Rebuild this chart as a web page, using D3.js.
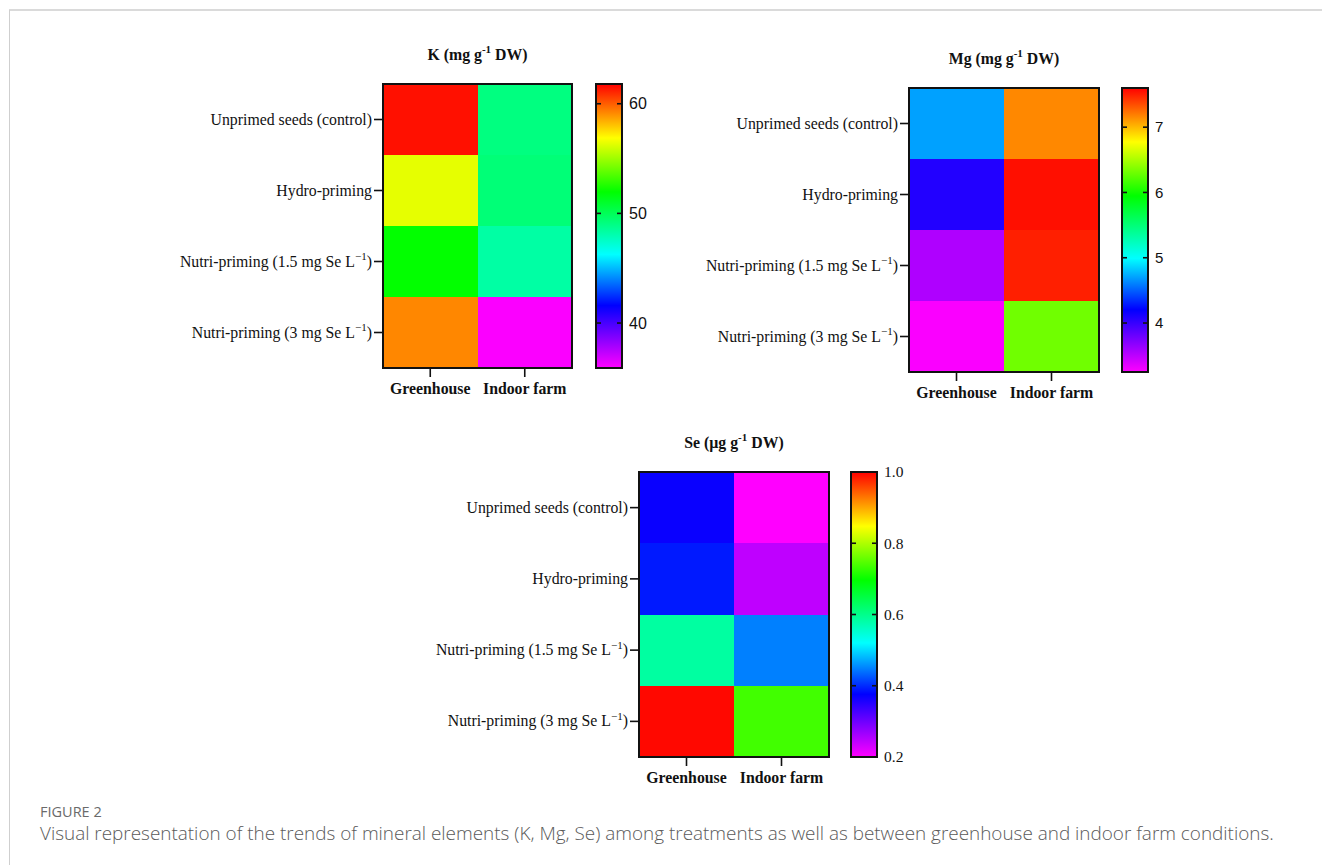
<!DOCTYPE html>
<html><head><meta charset="utf-8">
<script src="https://cdn.jsdelivr.net/npm/d3@7"></script>
<style>body{margin:0;background:#fff} svg{display:block} text,tspan{white-space:pre}</style>
</head><body><svg id="c" width="1322" height="865"></svg>
<script>
// ---------- data ----------
const treatments = ["Unprimed seeds (control)", "Hydro-priming", "Nutri-priming (1.5 mg Se L^\u22121^)", "Nutri-priming (3 mg Se L^\u22121^)"];
const conditions = ["Greenhouse", "Indoor farm"];
const kGreenhouse = [61.5, 56.4, 52.0, 59.2];
const kIndoor = [49.1, 49.3, 48.3, 36.0];
const mgGreenhouse = [4.70, 4.08, 3.55, 3.27];
const mgIndoor = [7.16, 7.55, 7.50, 6.31];
const seGreenhouse = [0.37, 0.39, 0.585, 0.995];
const seIndoor = [0.20, 0.244, 0.448, 0.735];
const kTicks = [40, 50, 60];
const mgTicks = [4, 5, 6, 7];
const seTicks = [0.2, 0.4, 0.6, 0.8, 1.0];
const kDomain = [35.9, 61.8];
const mgDomain = [3.25, 7.6];
const seDomain = [0.2, 1.0];
const rainbowStops = [0, 0.22, 0.40, 0.62, 0.81, 1];
const rainbowColors = ["#ff00ff", "#0000ff", "#00ffff", "#00ff00", "#ffff00", "#ff0000"];
const captionLabel = "FIGURE 2";
const captionText = "Visual representation of the trends of mineral elements (K, Mg, Se) among treatments as well as between greenhouse and indoor farm conditions.";

// ---------- drawing ----------
const SERIF = "'Liberation Serif','Times New Roman',Times,serif";
const SANS = "'Liberation Sans',Arial,Helvetica,sans-serif";
const svg = d3.select("#c");
svg.append("rect").attr("width", 1322).attr("height", 865).attr("fill", "#fff");
// frame
svg.append("line").attr("x1", 9).attr("x2", 1322).attr("y1", 10).attr("y2", 10).attr("stroke", "#dadada").attr("stroke-width", 2);
svg.append("line").attr("x1", 9.5).attr("x2", 9.5).attr("y1", 10).attr("y2", 865).attr("stroke", "#cfcfcf").attr("stroke-width", 1);

function rich(sel, str, fs) {
  const parts = str.split("^");
  parts.forEach((p, i) => {
    if (!p) return;
    const sup = i % 2 === 1;
    const t = sel.append("tspan").text(p);
    if (sup) t.attr("font-size", fs * 0.7).attr("dy", -fs * 0.42);
    else if (i > 0) t.attr("dy", fs * 0.42);
  });
}

let gid = 0;
function panel(cfg) {
  const g = svg.append("g");
  const x = d3.scaleBand().domain(conditions).range([cfg.x, cfg.x + cfg.w]);
  const y = d3.scaleBand().domain(treatments).range([cfg.y, cfg.y + cfg.h]);
  const d0 = cfg.domain[0], d1 = cfg.domain[1];
  const color = d3.scaleLinear()
    .domain(rainbowStops.map(s => d0 + s * (d1 - d0)))
    .range(rainbowColors).interpolate(d3.interpolateRgb).clamp(true);
  const cells = [];
  treatments.forEach((t, i) => {
    cells.push({ t, c: conditions[0], v: cfg.gh[i] });
    cells.push({ t, c: conditions[1], v: cfg.ind[i] });
  });
  g.selectAll("rect.cell").data(cells).join("rect").attr("class", "cell")
    .attr("x", d => x(d.c)).attr("y", d => y(d.t))
    .attr("width", x.bandwidth()).attr("height", y.bandwidth())
    .attr("fill", d => color(d.v)).attr("shape-rendering", "crispEdges");
  g.append("rect").attr("x", cfg.x).attr("y", cfg.y).attr("width", cfg.w).attr("height", cfg.h)
    .attr("fill", "none").attr("stroke", "#111").attr("stroke-width", 2);

  // title
  const tt = g.append("text").attr("x", cfg.x + cfg.w / 2).attr("y", cfg.y - 24)
    .attr("text-anchor", "middle").attr("font-family", SERIF).attr("font-weight", "bold")
    .attr("font-size", 15.8).attr("fill", "#111");
  rich(tt, cfg.title, 15.8);

  // left axis
  const ya = g.append("g").attr("transform", `translate(${cfg.x - 1},0)`)
    .call(d3.axisLeft(y).tickSize(8).tickPadding(2));
  ya.select(".domain").remove();
  ya.attr("font-family", SERIF).attr("font-size", 15.8);
  ya.selectAll(".tick line").attr("stroke", "#111").attr("stroke-width", 1.6);
  ya.selectAll(".tick text").attr("fill", "#111").each(function (d) {
    const s = d3.select(this); s.text(null); rich(s, d, 15.8);
  });

  // bottom axis
  const xa = g.append("g").attr("transform", `translate(0,${cfg.y + cfg.h + 1})`)
    .call(d3.axisBottom(x).tickSize(8).tickPadding(6));
  xa.select(".domain").remove();
  xa.attr("font-family", SERIF).attr("font-size", 15.8).attr("font-weight", "bold");
  xa.selectAll(".tick line").attr("stroke", "#111").attr("stroke-width", 1.6);
  xa.selectAll(".tick text").attr("fill", "#111");

  // colorbar
  const cy = d3.scaleLinear().domain(cfg.domain).range([cfg.y + cfg.h, cfg.y]);
  const id = "grad" + (gid++);
  const grad = svg.append("defs").append("linearGradient").attr("id", id)
    .attr("x1", 0).attr("x2", 0).attr("y1", 1).attr("y2", 0);
  rainbowStops.forEach((s, i) => grad.append("stop").attr("offset", s).attr("stop-color", rainbowColors[i]));
  const cbw = 26;
  g.append("rect").attr("x", cfg.cbx).attr("y", cfg.y).attr("width", cbw).attr("height", cfg.h)
    .attr("fill", `url(#${id})`).attr("stroke", "#111").attr("stroke-width", 2);
  const tg = g.selectAll("g.cbt").data(cfg.ticks).join("g").attr("class", "cbt")
    .attr("transform", d => `translate(0,${cy(d)})`);
  tg.append("line").attr("x1", cfg.cbx).attr("x2", cfg.cbx + 5).attr("stroke", "#111").attr("stroke-width", 1.6);
  tg.append("line").attr("x1", cfg.cbx + cbw - 5).attr("x2", cfg.cbx + cbw).attr("stroke", "#111").attr("stroke-width", 1.6);
  tg.append("text").attr("x", cfg.cbx + cbw + 7).attr("dy", "0.35em")
    .attr("font-family", cfg.cbFont).attr("font-size", cfg.cbSize).attr("fill", "#111")
    .text(d => cfg.fmt(d));
}

panel({ title: "K (mg g^-1^ DW)", x: 383, y: 84, w: 189, h: 284, cbx: 596, gh: kGreenhouse, ind: kIndoor,
  domain: kDomain, ticks: kTicks, fmt: d3.format("d"), cbFont: SANS, cbSize: 16 });
panel({ title: "Mg (mg g^-1^ DW)", x: 909, y: 88, w: 190, h: 284, cbx: 1122, gh: mgGreenhouse, ind: mgIndoor,
  domain: mgDomain, ticks: mgTicks, fmt: d3.format("d"), cbFont: SANS, cbSize: 15 });
panel({ title: "Se (\u00b5g g^-1^ DW)", x: 639, y: 472, w: 190, h: 285, cbx: 851, gh: seGreenhouse, ind: seIndoor,
  domain: seDomain, ticks: seTicks, fmt: d3.format(".1f"), cbFont: SERIF, cbSize: 15.5 });

// caption
svg.append("text").attr("x", 40).attr("y", 817).attr("font-family", "'Open Sans','Noto Sans',sans-serif")
  .attr("font-size", 14.5).attr("fill", "#6a6a6a").text(captionLabel);
const cap = svg.append("text").attr("x", 40).attr("y", 840).attr("font-family", "'Open Sans','Noto Sans',sans-serif")
  .attr("font-size", 17).attr("fill", "#5a5a5a").attr("font-weight", 300).text(captionText);
const w = cap.node().getComputedTextLength();
cap.attr("font-size", 17 * 1235 / w);
</script></body></html>
